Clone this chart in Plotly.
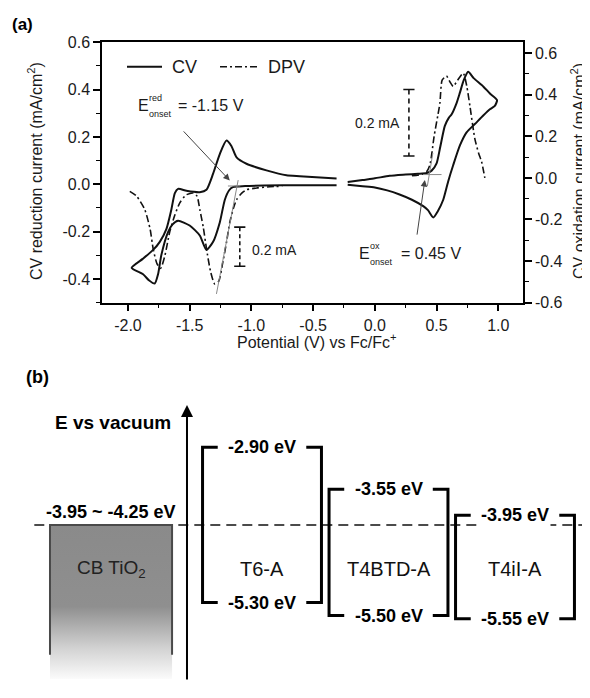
import plotly.graph_objects as go

# ---------------- Panel (a) data ----------------
# CV, reduction side (left axis): forward (cathodic) branch then return branch
cv_red_v = [-0.31, -0.6, -0.9, -1.05, -1.1, -1.15, -1.18, -1.215, -1.256, -1.31, -1.364, -1.418, -1.5,
            -1.594, -1.64, -1.675, -1.729, -1.756, -1.783, -1.83, -1.877, -1.97,
            -1.88, -1.796, -1.742, -1.688, -1.648, -1.62, -1.594, -1.526, -1.418, -1.364, -1.31,
            -1.256, -1.202, -1.162, -1.12, -1.04, -0.878, -0.716, -0.608, -0.31]
cv_red_i = [-0.004, -0.004, -0.005, -0.007, -0.009, -0.012, -0.025, -0.065, -0.161, -0.243, -0.277, -0.216, -0.174,
            -0.154, -0.17, -0.202, -0.298, -0.38, -0.419, -0.405, -0.38, -0.353,
            -0.315, -0.277, -0.243, -0.188, -0.106, -0.037, -0.019, -0.027, -0.033, -0.023, 0.045,
            0.128, 0.185, 0.162, 0.114, 0.087, 0.059, 0.038, 0.034, 0.025]

# DPV, reduction side (left axis)
dpv_red_v = [-1.985, -1.93, -1.864, -1.82, -1.796, -1.765, -1.735, -1.70, -1.661, -1.62, -1.58, -1.53,
             -1.47, -1.44, -1.418, -1.39, -1.364, -1.33, -1.297, -1.265, -1.23, -1.2, -1.175, -1.145,
             -1.12, -1.08, -1.04, -0.95, -0.85, -0.75]
dpv_red_i = [-0.03, -0.05, -0.106, -0.19, -0.271, -0.335, -0.355, -0.3, -0.2, -0.13, -0.078, -0.045,
             -0.037, -0.05, -0.106, -0.18, -0.271, -0.37, -0.421, -0.41, -0.325, -0.24, -0.161, -0.1,
             -0.065, -0.038, -0.023, -0.015, -0.01, -0.008]

# CV, oxidation side (right axis): anodic branch then return branch
cv_ox_v = [-0.22, -0.1, 0.0, 0.12, 0.25, 0.35, 0.42, 0.46, 0.5, 0.53, 0.567, 0.6, 0.621, 0.662, 0.689,
           0.72, 0.756, 0.8, 0.878, 0.932, 0.99,
           0.97, 0.932, 0.878, 0.81, 0.743, 0.689, 0.635, 0.594, 0.554, 0.51, 0.473, 0.43, 0.392,
           0.3, 0.2, 0.1, 0.0, -0.1, -0.22]
cv_ox_i = [-0.02, -0.01, -0.002, 0.01, 0.016, 0.02, 0.024, 0.035, 0.07, 0.15, 0.25, 0.29, 0.305, 0.36, 0.41,
           0.47, 0.51, 0.48, 0.44, 0.406, 0.374,
           0.345, 0.33, 0.3, 0.259, 0.219, 0.156, 0.062, -0.017, -0.105, -0.16, -0.19, -0.155, -0.136,
           -0.105, -0.08, -0.06, -0.046, -0.04, -0.033]

# DPV, oxidation side (right axis)
dpv_ox_v = [0.3, 0.38, 0.42, 0.446, 0.48, 0.51, 0.527, 0.545, 0.58, 0.61, 0.635, 0.67, 0.716, 0.745,
            0.77, 0.81, 0.84, 0.865, 0.891]
dpv_ox_i = [0.01, 0.017, 0.03, 0.062, 0.2, 0.3, 0.36, 0.47, 0.49, 0.46, 0.44, 0.47, 0.504, 0.44,
            0.346, 0.188, 0.12, 0.077, 0.0]

x_ticks = [-2.0, -1.5, -1.0, -0.5, 0.0, 0.5, 1.0]
yl_ticks = [-0.4, -0.2, 0.0, 0.2, 0.4, 0.6]
yr_ticks = [-0.6, -0.4, -0.2, 0.0, 0.2, 0.4, 0.6]

onset_red = -1.15
onset_ox = 0.45

# ---------------- Panel (b) data ----------------
molecules = ["T6-A", "T4BTD-A", "T4iI-A"]
lumo = [-2.90, -3.55, -3.95]
homo = [-5.30, -5.50, -5.55]
cb_tio2 = [-3.95, -4.25]

# ---------------- helpers / style ----------------
OFF = 8                      # default page body margin
FW, FH = 590 - OFF, 698 - 2 * OFF
FONT = "Liberation Sans, Arial, sans-serif"
TXT = "#1a1a1a"


def fmt(v):
    return f"{v:.1f}"


def px(x):
    return (x - OFF) / FW


def py(y):
    return 1 - (y - OFF) / FH


def ptext(text, x, y, size=16, xanchor="center", yanchor="middle", angle=0, color=TXT, bold=False):
    return dict(text=f"<b>{text}</b>" if bold else text, x=px(x), y=py(y), xref="paper", yref="paper",
                xanchor=xanchor, yanchor=yanchor, textangle=angle, showarrow=False,
                font=dict(family=FONT, size=size, color=color))


fig = go.Figure()
DASHDOT = "7px,3px,2px,3px"
LW = 2

fig.add_trace(go.Scatter(x=cv_red_v, y=cv_red_i, mode="lines", xaxis="x", yaxis="y",
                         line=dict(color="#111", width=LW, shape="spline", smoothing=0.6),
                         showlegend=False))
fig.add_trace(go.Scatter(x=dpv_red_v, y=dpv_red_i, mode="lines", xaxis="x", yaxis="y",
                         line=dict(color="#111", width=1.6, dash=DASHDOT, shape="spline", smoothing=0.6),
                         showlegend=False))
fig.add_trace(go.Scatter(x=cv_ox_v, y=cv_ox_i, mode="lines", xaxis="x", yaxis="y2",
                         line=dict(color="#111", width=LW, shape="spline", smoothing=0.6),
                         showlegend=False))
fig.add_trace(go.Scatter(x=dpv_ox_v, y=dpv_ox_i, mode="lines", xaxis="x", yaxis="y2",
                         line=dict(color="#111", width=1.6, dash=DASHDOT, shape="spline", smoothing=0.6),
                         showlegend=False))

# onset tangent lines (thin gray)
fig.add_trace(go.Scatter(x=[-1.19, -1.09], y=[-0.007, -0.007], mode="lines", xaxis="x", yaxis="y",
                         line=dict(color="#888", width=1), showlegend=False))
fig.add_trace(go.Scatter(x=[-1.283, -1.107], y=[-0.463, 0.018], mode="lines", xaxis="x", yaxis="y",
                         line=dict(color="#888", width=1), showlegend=False))
fig.add_trace(go.Scatter(x=[0.392, 0.54], y=[0.016, 0.016], mode="lines", xaxis="x", yaxis="y2",
                         line=dict(color="#888", width=1), showlegend=False))
fig.add_trace(go.Scatter(x=[0.425, 0.47], y=[-0.04, 0.12], mode="lines", xaxis="x", yaxis="y2",
                         line=dict(color="#888", width=1), showlegend=False))

# 0.2 mA scale bars
fig.add_trace(go.Scatter(x=[-1.094, -1.094], y=[-0.181, -0.346], mode="lines+markers", xaxis="x", yaxis="y",
                         line=dict(color="#111", width=1.6, dash="4px,3px"),
                         marker=dict(symbol="line-ew-open", size=8, line=dict(width=1.6, color="#111")),
                         showlegend=False))
fig.add_trace(go.Scatter(x=[0.276, 0.276], y=[0.425, 0.105], mode="lines+markers", xaxis="x", yaxis="y2",
                         line=dict(color="#111", width=1.6, dash="5px,4px"),
                         marker=dict(symbol="line-ew-open", size=8, line=dict(width=1.6, color="#111")),
                         showlegend=False))

# ---------------- Panel (b) drawing ----------------
HALF = 0.47
STUB = 0.12
cb_mid = sum(cb_tio2) / 2

# dashed CB level line
fig.add_trace(go.Scatter(x=[-1.80, 2.6], y=[cb_mid, cb_mid], mode="lines", xaxis="x3", yaxis="y3",
                         line=dict(color="#111", width=1.5, dash="10px,6px"), showlegend=False))

# CB TiO2 box with fading gradient
BOX_L, BOX_R, BOX_BOT, BORDER_BOT = -1.676, -0.711, -6.48, -6.105
fig.add_trace(go.Scatter(x=[BOX_L, BOX_R, BOX_R, BOX_L, BOX_L], y=[cb_mid, cb_mid, BOX_BOT, BOX_BOT, cb_mid],
                         mode="lines", fill="toself", xaxis="x3", yaxis="y3",
                         line=dict(width=0, color="rgba(0,0,0,0)"),
                         fillgradient=dict(type="vertical",
                                           colorscale=[[0, "#fbfbfb"], [0.2, "#d2d2d2"], [0.47, "#8f8f8f"],
                                                       [1, "#8a8a8a"]]),
                         showlegend=False, hoverinfo="skip"))
fig.add_trace(go.Scatter(x=[BOX_L, BOX_L, BOX_R, BOX_R], y=[BORDER_BOT, cb_mid, cb_mid, BORDER_BOT],
                         mode="lines", xaxis="x3", yaxis="y3",
                         line=dict(color="#4a4a4a", width=2), showlegend=False))

# brackets for each molecule
for i, (lu, ho) in enumerate(zip(lumo, homo)):
    L, R = i - HALF, i + HALF
    fig.add_trace(go.Scatter(x=[L + STUB, L, L, L + STUB], y=[lu, lu, ho, ho], mode="lines",
                             xaxis="x3", yaxis="y3", line=dict(color="#000", width=3),
                             showlegend=False))
    fig.add_trace(go.Scatter(x=[R - STUB, R, R, R - STUB], y=[lu, lu, ho, ho], mode="lines",
                             xaxis="x3", yaxis="y3", line=dict(color="#000", width=3),
                             showlegend=False))

annotations = []

# legend (manual)
shapes = [
    dict(type="line", xref="paper", yref="paper", x0=px(127), x1=px(162), y0=py(60), y1=py(60),
         line=dict(color="#111", width=2)),
    dict(type="line", xref="paper", yref="paper", x0=px(220), x1=px(258), y0=py(60), y1=py(60),
         line=dict(color="#111", width=1.6, dash=DASHDOT)),
]
annotations += [
    ptext("CV", 170, 60, size=18, xanchor="left"),
    ptext("DPV", 266, 60, size=18, xanchor="left"),
]

# axis titles and panel labels
annotations += [
    ptext("CV reduction current (mA/cm<sup>2</sup>)", 35, 167, size=16, angle=-90),
    ptext("CV oxidation current (mA/cm<sup>2</sup>)", 578, 167, size=16, angle=-90),
    ptext("Potential (V) vs Fc/Fc<sup>+</sup>", 316, 341, size=16),
    ptext("(a)", 22, 17, size=17, color="#000", bold=True),
    ptext("(b)", 37, 378, size=18, color="#000", bold=True),
]


def onset_label(x_e, y_c, sup, val_txt, x_eq):
    return [
        ptext("E", x_e, y_c, size=16, xanchor="left"),
        ptext(sup, x_e + 11, y_c - 8, size=9, xanchor="left"),
        ptext("onset", x_e + 11, y_c + 8, size=9, xanchor="left"),
        ptext(val_txt, x_eq, y_c, size=16, xanchor="left"),
    ]


annotations += onset_label(136, 100, "red", f"= {onset_red:.2f} V", 176)
annotations += onset_label(357, 252, "ox", f"= {onset_ox:.2f} V", 399)

# arrows to onset points
annotations += [
    dict(x=-1.175, y=0.016, ax=-1.56, ay=0.23, xref="x", yref="y", axref="x", ayref="y", text="",
         showarrow=True, arrowhead=2, arrowsize=1.3, arrowwidth=1, arrowcolor="#444"),
    dict(x=0.405, y=-0.01, ax=0.34, ay=-0.28, xref="x", yref="y2", axref="x", ayref="y2", text="",
         showarrow=True, arrowhead=2, arrowsize=1.3, arrowwidth=1, arrowcolor="#444"),
]

# scale bar labels
annotations += [
    ptext("0.2 mA", 250, 248, size=14, xanchor="left"),
    ptext("0.2 mA", 402, 118, size=14, xanchor="right"),
]

# panel (b) text (energy axis in eV, molecule index on x)
annotations += [
    dict(x=-0.593, y=-2.249, ax=-0.593, ay=-6.511, xref="x3", yref="y3", axref="x3", ayref="y3", text="",
         showarrow=True, arrowhead=2, arrowsize=1.2, arrowwidth=2, arrowcolor="#000"),
    dict(text="<b>E vs vacuum</b>", x=-1.178, y=-2.52, xref="x3", yref="y3", showarrow=False,
         font=dict(family=FONT, size=19, color="#000")),
    dict(text=f"<b>{cb_tio2[0]:.2f} ~ {cb_tio2[1]:.2f} eV</b>", x=(BOX_L + BOX_R) / 2, y=cb_mid,
         xref="x3", yref="y3", yanchor="bottom", yshift=1, showarrow=False,
         font=dict(family=FONT, size=18, color="#000")),
    dict(text="CB TiO<sub>2</sub>", x=(BOX_L + BOX_R) / 2, y=-4.78, xref="x3", yref="y3", showarrow=False,
         font=dict(family=FONT, size=19, color="#222")),
]
for i, (name, lu, ho) in enumerate(zip(molecules, lumo, homo)):
    annotations += [
        dict(text=f"<b>{lu:.2f} eV</b>", x=i, y=lu, xref="x3", yref="y3", showarrow=False,
             bgcolor="white", font=dict(family=FONT, size=18, color="#000")),
        dict(text=f"<b>{ho:.2f} eV</b>", x=i, y=ho, xref="x3", yref="y3", showarrow=False,
             bgcolor="white", font=dict(family=FONT, size=18, color="#000")),
        dict(text=name, x=i, y=-4.78, xref="x3", yref="y3", showarrow=False,
             font=dict(family=FONT, size=20, color="#111")),
    ]

axis_common = dict(showline=True, linecolor="#000", linewidth=1.5, ticks="outside", tickcolor="#000",
                   tickwidth=1.5, ticklen=7, showgrid=False, zeroline=False,
                   tickfont=dict(family=FONT, size=16, color=TXT))
minor_common = dict(ticks="outside", ticklen=4, tickwidth=1.2, tickcolor="#000", tick0=0, showgrid=False)

# page-pixel extents of the invisible schematic axes (x: molecule index, y: energy in eV)
X3_RANGE = [(OFF - 262) / 126.5, (590 - 262) / 126.5]
Y3_RANGE = [-4.458 - (690 - 553.67) / 66.4, -4.458 + (553.67 - OFF) / 66.4]

fig.update_layout(
    width=FW, height=FH,
    margin=dict(l=0, r=0, t=0, b=0),
    paper_bgcolor="white", plot_bgcolor="rgba(0,0,0,0)",
    showlegend=False,
    xaxis=dict(domain=[px(102), px(523)], range=[-2.21, 1.2], anchor="y", mirror=True,
               tickvals=x_ticks, ticktext=[fmt(v) for v in x_ticks],
               minor=dict(dtick=0.25, **minor_common), **axis_common),
    yaxis=dict(domain=[py(302), py(35)], range=[-0.5, 0.6], anchor="x",
               tickvals=yl_ticks, ticktext=[fmt(v) for v in yl_ticks],
               minor=dict(dtick=0.1, **minor_common), **axis_common),
    yaxis2=dict(overlaying="y", side="right", range=[-0.6, 0.652], anchor="x",
                tickvals=yr_ticks, ticktext=[fmt(v) for v in yr_ticks],
                minor=dict(dtick=0.1, **minor_common), **axis_common),
    xaxis3=dict(domain=[0, 1], range=X3_RANGE, anchor="y3", visible=False),
    yaxis3=dict(domain=[0, 1], range=Y3_RANGE, anchor="x3", visible=False),
    shapes=shapes,
    annotations=annotations,
)

fig.write_html("out.html")
